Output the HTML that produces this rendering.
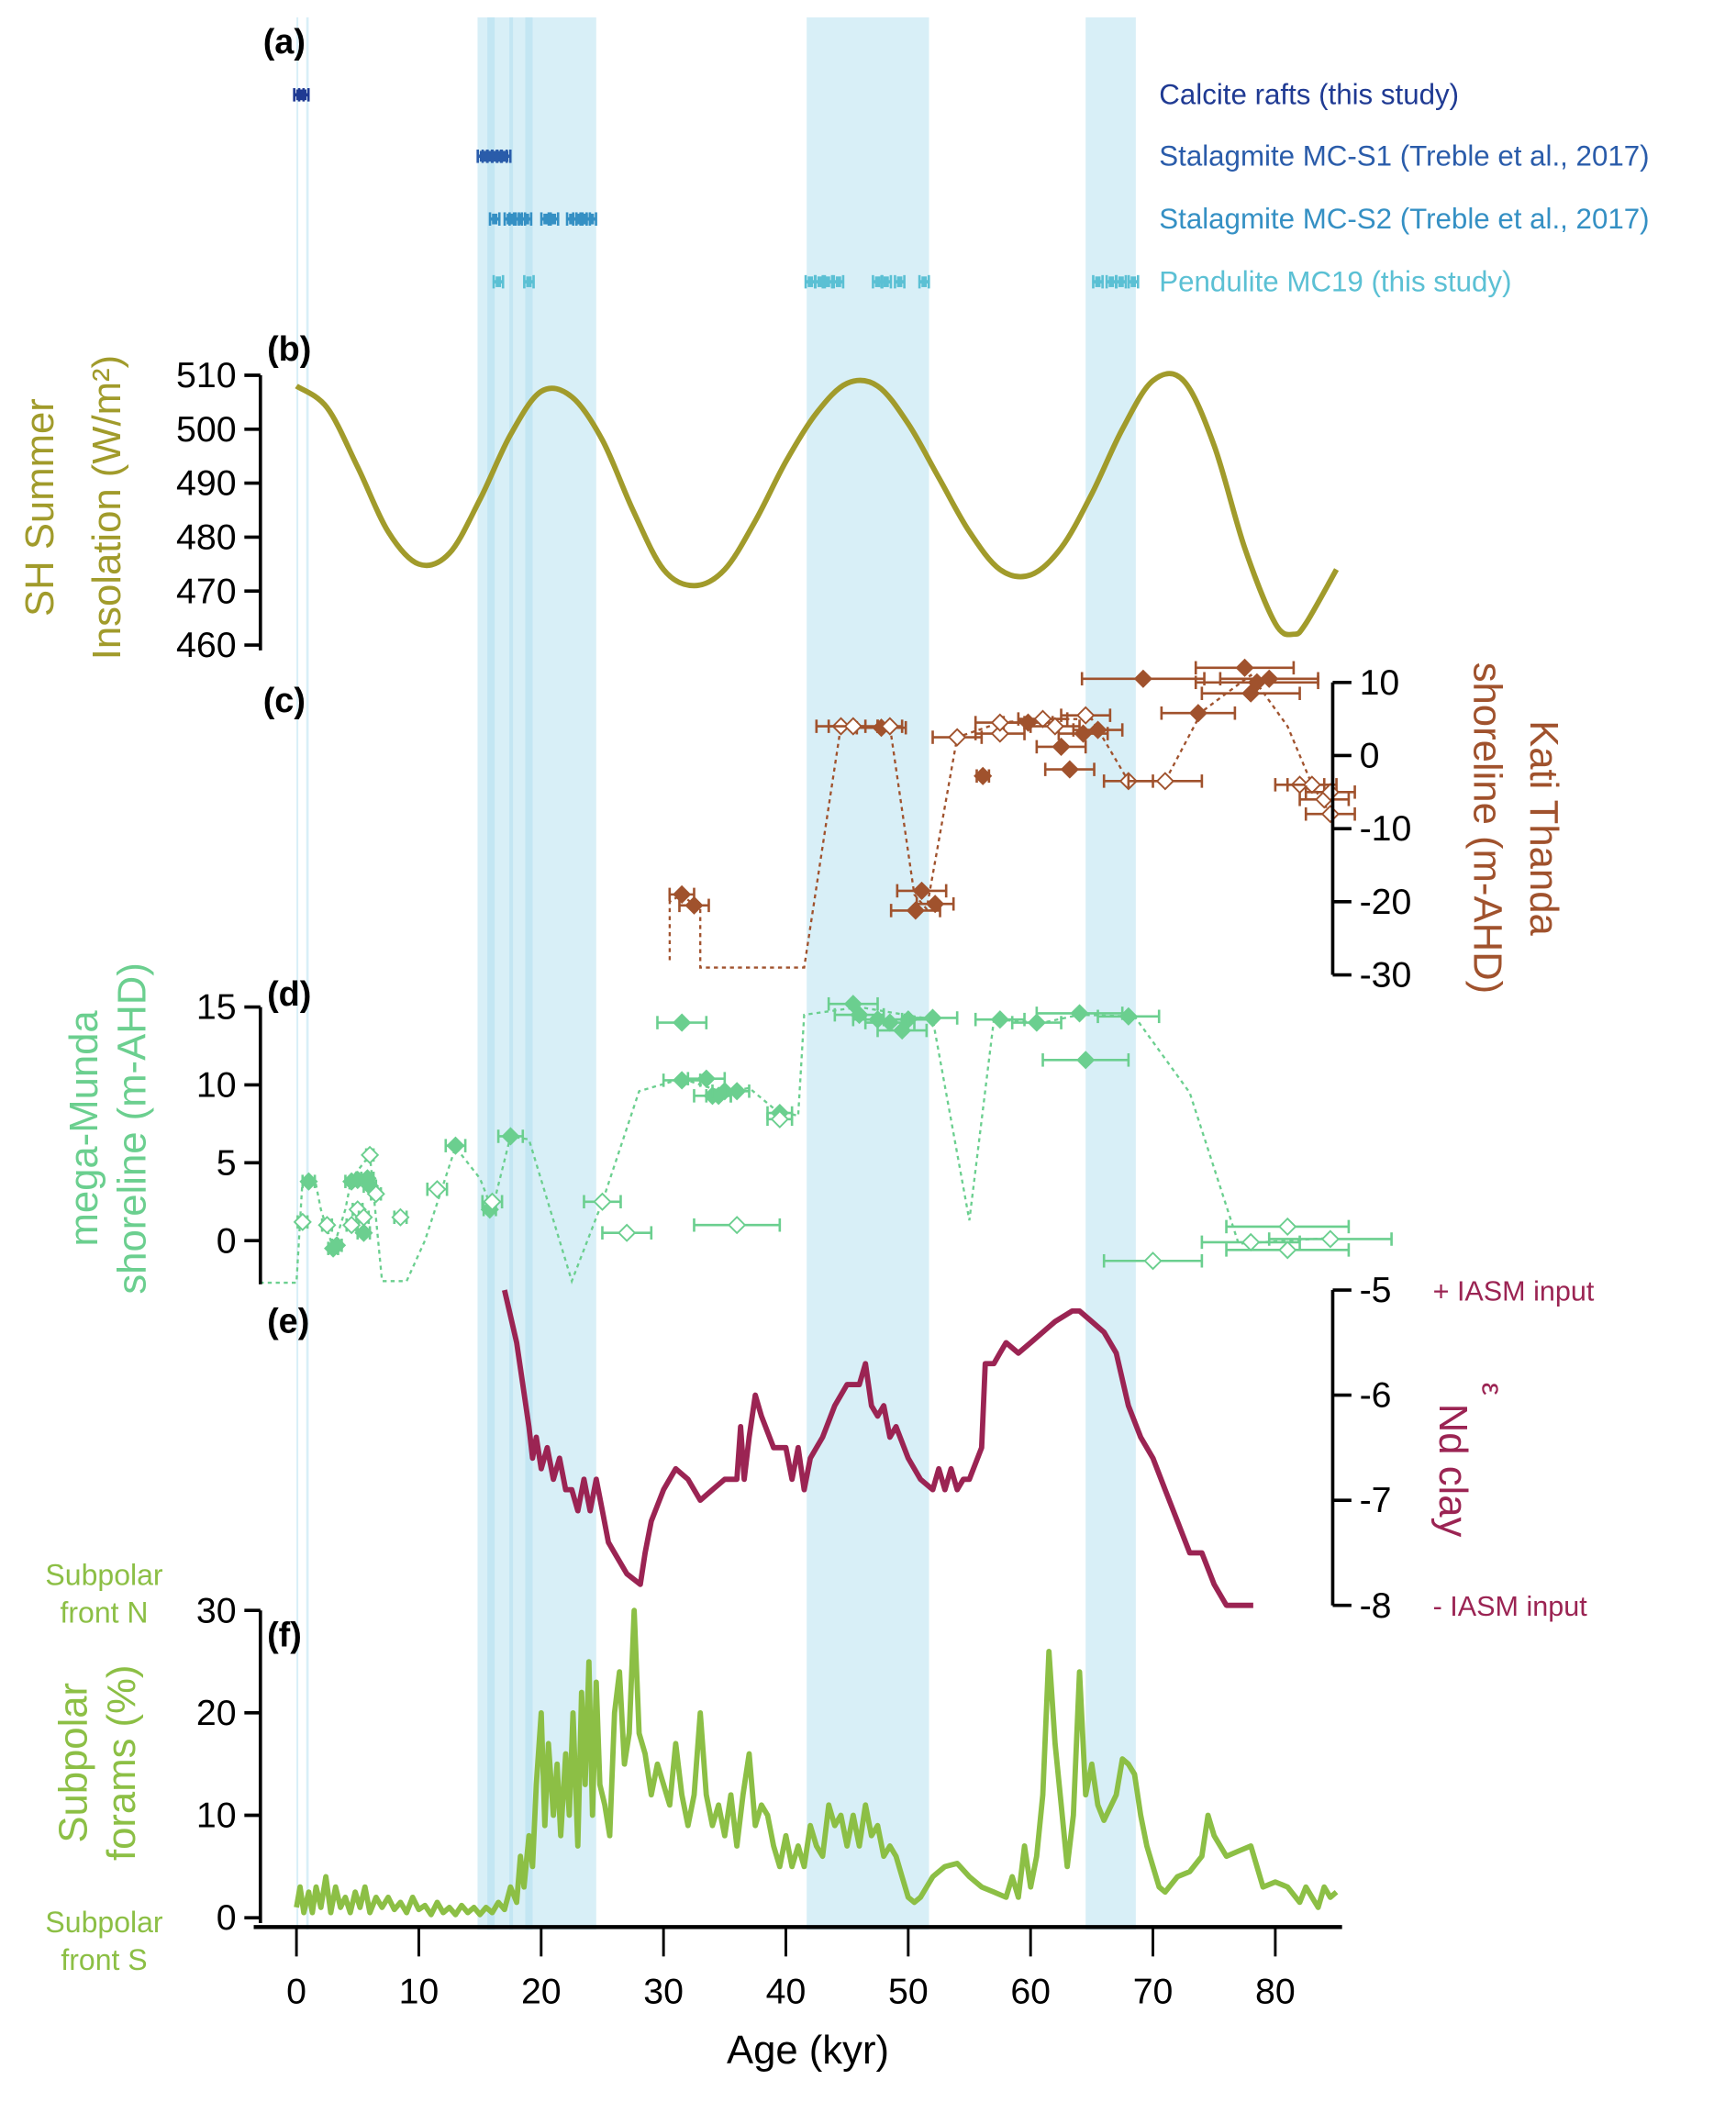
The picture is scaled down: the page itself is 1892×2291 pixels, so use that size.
<!DOCTYPE html>
<html><head><meta charset="utf-8"><style>
html,body{margin:0;padding:0;background:#fff}
svg{display:block;font-family:"Liberation Sans",sans-serif}
</style></head><body>
<svg id="chart" width="1892" height="2291" viewBox="0 0 1300 1574" preserveAspectRatio="none" xmlns="http://www.w3.org/2000/svg">
<g id="bands"></g>
<g id="plots"></g>
<g id="labels"></g>
</svg>
<script>
// ---------- data ----------
const bandsData = [[0,0.15],[0.8,1.0],[14.8,24.5],[41.7,51.7],[64.5,68.6]];
const subBands = [[15.6,16.2],[17.4,17.7],[18.7,19.3]];
const rowCalcite = [0.2,0.6];
const rowS1 = [15.2,15.6,16.0,16.4,16.8,17.1];
const rowS2 = [16.2,17.4,17.8,18.3,18.8,20.4,21.0,22.5,23.0,23.6,24.1];
const rowMC19 = [16.5,19.0,42.0,42.8,43.4,44.3,47.5,48.2,49.3,51.3,65.5,66.6,67.4,68.4];

const insolAge = [0,2.5,5,7.5,10,12.5,15,17.5,20,22.5,25,27.5,30,32.5,35,37.5,40,42.5,45,47.5,50,52.5,55,57.5,60,62.5,65,67.5,70,72.5,75,77.5,80,81.5,82.5,85];
const insolVal = [508,504,493,481,475,477,487,499,507,506,498,485,474,471,474,483,494,503,508.5,508,501,491,481,474,473,478,488,500,509,509,497,478,464,462,464,474];

const ktAge = [31.5,32.5,47.8,51.1,50.6,52.2,56.1,59.8,62.5,64.3,63.2,65.5,69.2,73.7,77.5,78,78.5,79.5,44.5,45.5,48.5,54,57.5,57.5,61,62,64.5,68,71,82,83,84,84.5,84.5];
const ktVal = [-19,-20.5,3.8,-18.5,-21.2,-20.3,-2.8,4.5,1.2,3,-1.9,3.5,10.5,5.8,12,8.5,10,10.5,4,4,4,2.5,3,4.5,5,4,5.5,-3.5,-3.5,-4,-4,-6,-8,-5];
const ktErr = [1,1.2,2,2,2,1.5,0.5,2,2,2,2,2,5,3,4,4,5,4,2,2,1,2,2,2,2,2,2,2,3,2,2,2,2,2];
const ktFilled = [1,1,1,1,1,1,1,1,1,1,1,1,1,1,1,1,1,1,0,0,0,0,0,0,0,0,0,0,0,0,0,0,0,0];
const ktLineAge = [30.5,30.5,31.5,32.5,33,33,41.5,44.5,48.5,50.5,51.5,54,57.5,61,65,68,71,74,78,81,83,84.5];
const ktLineVal = [-28,-20,-19,-20.5,-21,-29,-29,4,4,-19,-21,2.5,4.5,5,5,-3.5,-3.5,6,11,4,-4,-8];

const mmAge = [1,3,3.3,4.5,5,5.5,5.8,6,13,15.8,17.5,31.5,31.5,33.5,34,34.5,35,36,39.5,45.5,46,47.5,48.5,49.5,50,52,57.5,60.5,64,64.5,68,0.5,2.5,4.5,5,5.5,6,6.5,8.5,11.5,16,25,27,36,39.5,70,78,81,81,84.5];
const mmVal = [3.8,-0.5,-0.3,3.8,3.9,0.5,4,3.5,6.1,2,6.7,14,10.3,10.4,9.3,9.3,9.6,9.6,8.2,15.2,14.5,14.2,14,13.5,14.2,14.3,14.2,14,14.6,11.6,14.4,1.2,1,1,2,1.5,5.5,3,1.5,3.3,2.5,2.5,0.5,1,7.8,-1.3,-0.1,0.9,-0.6,0.1];
const mmErr = [0.5,0.4,0.4,0.5,0.5,0.5,0.5,0.5,0.8,0.5,1,2,1.5,1.5,1.5,1,1,1,1,2,2,2,2,2,2,2,2,2,3.5,3.5,2.5,0.4,0.4,0.4,0.4,0.4,0.3,0.4,0.5,0.8,0.8,1.5,2,3.5,1,4,4,5,5,5];
const mmFilled = [1,1,1,1,1,1,1,1,1,1,1,1,1,1,1,1,1,1,1,1,1,1,1,1,1,1,1,1,1,1,1,0,0,0,0,0,0,0,0,0,0,0,0,0,0,0,0,0,0,0];
const mmLineAge = [-3,0,0.5,1,1.5,2,3,4,4.5,6,7,9,10.5,13,15,16,17.5,19,22.5,25,28,31.5,35,37,39,41,41.5,46,52,55,57,61,64,68.5,73,77,85];
const mmLineVal = [-2.7,-2.7,4,3.8,4,2,-0.5,2,4,5.5,-2.6,-2.6,0,6,4,2,6.7,6.5,-2.6,2.5,9.6,10.4,9.5,9.8,8.5,8,14.5,15,14.2,1.3,14.2,14,14.5,14.4,9.5,-0.2,0.2];

const ndAge = [17,18,18.5,19,19.3,19.6,20,20.5,21,21.5,22,22.5,23,23.5,24,24.5,25,25.5,26,27,28.1,28.5,29,30,31,32,33,34,35,36,36.3,36.6,37,37.5,38,39,40,40.5,41,41.5,42,43,44,45,46,46.5,47,47.5,48,48.5,49,50,51,52,52.5,53,53.5,54,54.5,55,56,56.3,57,57.5,58,59,60,61,62,63.4,64,65,66,67,68,69,70,71,72,73,74,75,76,77,78.2];
const ndVal = [-5,-5.5,-5.9,-6.3,-6.6,-6.4,-6.7,-6.5,-6.8,-6.6,-6.9,-6.9,-7.1,-6.8,-7.1,-6.8,-7.1,-7.4,-7.5,-7.7,-7.8,-7.5,-7.2,-6.9,-6.7,-6.8,-7,-6.9,-6.8,-6.8,-6.3,-6.8,-6.4,-6,-6.2,-6.5,-6.5,-6.8,-6.5,-6.9,-6.6,-6.4,-6.1,-5.9,-5.9,-5.7,-6.1,-6.2,-6.1,-6.4,-6.3,-6.6,-6.8,-6.9,-6.7,-6.9,-6.7,-6.9,-6.8,-6.8,-6.5,-5.7,-5.7,-5.6,-5.5,-5.6,-5.5,-5.4,-5.3,-5.2,-5.2,-5.3,-5.4,-5.6,-6.1,-6.4,-6.6,-6.9,-7.2,-7.5,-7.5,-7.8,-8,-8,-8];

const fAge = [0,0.3,0.6,1,1.3,1.6,2,2.4,2.8,3.2,3.6,4,4.4,4.8,5.2,5.6,6,6.5,7,7.5,8,8.5,9,9.5,10,10.5,11,11.5,12,12.5,13,13.5,14,14.5,15,15.5,16,16.5,17,17.5,18,18.3,18.6,19,19.3,19.6,20,20.3,20.6,21,21.3,21.6,22,22.3,22.6,23,23.3,23.6,23.9,24.2,24.5,24.8,25.2,25.6,26,26.4,26.8,27.2,27.6,28,28.5,29,29.5,30,30.5,31,31.5,32,32.5,33,33.5,34,34.5,35,35.5,36,36.5,37,37.5,38,38.5,39,39.5,40,40.5,41,41.5,42,42.5,43,43.5,44,44.5,45,45.5,46,46.5,47,47.5,48,48.5,49,49.5,50,50.5,51,52,53,54,55,56,57,58,58.5,59,59.5,60,60.5,61,61.5,62,62.5,63,63.5,64,64.5,65,65.5,66,67,67.5,68,68.5,69,69.5,70,70.5,71,72,73,74,74.5,75,76,77,78,79,80,81,82,82.5,83,83.5,84,84.5,85];
const fVal = [1,3,0.5,2.5,0.5,3,1,4,0.5,3,1,2,0.5,2.5,1,3,0.5,2,1,2,0.8,1.5,0.5,2,0.8,1.2,0.3,1.5,0.5,1,0.3,1.2,0.5,1,0.3,1,0.5,1.5,0.8,3,1.5,6,3,8,5,13,20,9,17,10,15,8,16,10,20,7,22,13,25,10,23,13,11,8,20,24,15,18,30,18,16,12,15,13,11,17,12,9,12,20,12,9,11,8,12,7,12,16,9,11,10,7,5,8,5,7,5,9,7,6,11,9,10,7,10,7,11,8,9,6,7,6,4,2,1.5,2,4,5,5.3,4,3,2.5,2,4,2,7,3,6,12,26,17,11,5,10,24,12,15,11,9.5,12,15.5,15,14,10,7,5,3,2.5,4,4.5,6,10,8,6,6.5,7,3,3.5,3,1.5,3,2,1,3,2,2.5];

const xTicks = [0,10,20,30,40,50,60,70,80];
const insolTicks = [460,470,480,490,500,510];
const ktTicks = [-30,-20,-10,0,10];
const mmTicks = [0,5,10,15];
const ndTicks = [-8,-7,-6,-5];
const fTicks = [0,10,20,30];

// ---------- scales ----------
const X = a => 222 + a*9.1625;
const Yins = v => 281 + (510-v)*4.04;
const Ykt = v => 511 + (10-v)*5.475;
const Ymm = v => 929 - v*11.66;
const Ynd = v => 966 + (-5-v)*78.7;
const Yf = v => 1436 - v*7.67;

const NS="http://www.w3.org/2000/svg";
function mk(parent, tag, attrs){const e=document.createElementNS(NS,tag);for(const k in attrs)e.setAttribute(k,attrs[k]);parent.appendChild(e);return e;}
const gB=document.getElementById('bands'), gP=document.getElementById('plots'), gL=document.getElementById('labels');

bandsData.forEach(b=>{const r=mk(gB,'rect',{x:X(b[0]),y:13,width:X(b[1])-X(b[0]),height:1432,fill:'#d8eff7'});

});
subBands.forEach(b=>{const r=mk(gB,'rect',{x:X(b[0]),y:13,width:X(b[1])-X(b[0]),height:1432,fill:'#c3e6f3'});

});

function linePath(ax,vy,Y){return ax.map((a,i)=>(i?'L':'M')+X(a).toFixed(1)+','+Y(vy[i]).toFixed(1)).join(' ');}
function smoothPath(ax,vy,Y){const p=ax.map((a,i)=>[X(a),Y(vy[i])]);let d='M'+p[0][0]+','+p[0][1];
for(let i=0;i<p.length-1;i++){const p0=p[i-1]||p[i],p1=p[i],p2=p[i+1],p3=p[i+2]||p2;
d+=' C'+(p1[0]+(p2[0]-p0[0])/6)+','+(p1[1]+(p2[1]-p0[1])/6)+' '+(p2[0]-(p3[0]-p1[0])/6)+','+(p2[1]-(p3[1]-p1[1])/6)+' '+p2[0]+','+p2[1];}return d;}
function text(parent,x,y,s,attrs){const t=mk(parent,'text',Object.assign({x:x,y:y},attrs));t.textContent=s;return t;}

function row(ages,y,col,name){ages.forEach(a=>{const g=mk(gP,'g',{});


const x=X(a);mk(g,'line',{x1:x-3.5,x2:x+3.5,y1:y,y2:y,stroke:col,'stroke-width':2.5});
mk(g,'line',{x1:x-3.5,x2:x-3.5,y1:y-5,y2:y+5,stroke:col,'stroke-width':1.8});
mk(g,'line',{x1:x+3.5,x2:x+3.5,y1:y-5,y2:y+5,stroke:col,'stroke-width':1.8});
mk(g,'rect',{x:x-2,y:y-4,width:4,height:8,fill:col});});}
row(rowCalcite,71,'#1f3a93','calcite-raft-age');
row(rowS1,117,'#2a5caa','mc-s1-age');
row(rowS2,164,'#3590c4','mc-s2-age');
row(rowMC19,211,'#5bc0d4','mc19-age');
[['Calcite rafts (this study)',71,'#1f3a93'],['Stalagmite MC-S1 (Treble et al., 2017)',117,'#2a5caa'],['Stalagmite MC-S2 (Treble et al., 2017)',164,'#3590c4'],['Pendulite MC19 (this study)',211,'#5bc0d4']].forEach(l=>{
const t=text(gL,868,l[1]+7,l[0],{fill:l[2],'font-size':21.5});

});

let p=mk(gP,'path',{d:smoothPath(insolAge,insolVal,Yins),fill:'none',stroke:'#a19b2b','stroke-width':4});



p=mk(gP,'path',{d:linePath(ktLineAge,ktLineVal,Ykt),fill:'none',stroke:'#a0522d','stroke-width':1.6,'stroke-dasharray':'3,3'});


function pts(ages,vals,errs,filled,Y,col,name){ages.forEach((a,i)=>{const g=mk(gP,'g',{});


const x=X(a),y=Y(vals[i]),e=errs[i]*9.1625;
mk(g,'line',{x1:x-e,x2:x+e,y1:y,y2:y,stroke:col,'stroke-width':1.8});
mk(g,'line',{x1:x-e,x2:x-e,y1:y-5,y2:y+5,stroke:col,'stroke-width':1.8});
mk(g,'line',{x1:x+e,x2:x+e,y1:y-5,y2:y+5,stroke:col,'stroke-width':1.8});
mk(g,'path',{d:`M${x},${y-6}L${x+6},${y}L${x},${y+6}L${x-6},${y}Z`,fill:filled[i]?col:'#fff',stroke:col,'stroke-width':1.3});});}
pts(ktAge,ktVal,ktErr,ktFilled,Ykt,'#a0522d','kati-thanda-point');

p=mk(gP,'path',{d:linePath(mmLineAge,mmLineVal,Ymm),fill:'none',stroke:'#6bcf8f','stroke-width':1.6,'stroke-dasharray':'3,3'});


pts(mmAge,mmVal,mmErr,mmFilled,Ymm,'#6bcf8f','mega-munda-point');

p=mk(gP,'path',{d:linePath(ndAge,ndVal,Ynd),fill:'none',stroke:'#9b2453','stroke-width':4,'stroke-linejoin':'round'});



p=mk(gP,'path',{d:linePath(fAge,fVal,Yf),fill:'none',stroke:'#8cbf45','stroke-width':4,'stroke-linejoin':'round'});



function leftAxis(ticks,Y,x,name){const g=mk(gL,'g',{});


mk(g,'line',{x1:x,x2:x,y1:Y(ticks[0])+4,y2:Y(ticks[ticks.length-1]),stroke:'#000','stroke-width':2.5});
ticks.forEach(t=>{const y=Y(t);mk(g,'line',{x1:x-12,x2:x,y1:y,y2:y,stroke:'#000','stroke-width':2.5});
text(g,x-18,y+9,String(t),{'text-anchor':'end','font-size':27,fill:'#000'});});return g;}
function rightAxis(ticks,Y,x,name){const g=mk(gL,'g',{});


mk(g,'line',{x1:x,x2:x,y1:Y(ticks[0]),y2:Y(ticks[ticks.length-1]),stroke:'#000','stroke-width':2.5});
ticks.forEach(t=>{const y=Y(t);mk(g,'line',{x1:x,x2:x+14,y1:y,y2:y,stroke:'#000','stroke-width':2.5});
text(g,x+20,y+9,String(t),{'text-anchor':'start','font-size':27,fill:'#000'});});return g;}
leftAxis(insolTicks,Yins,195,'insolation-y-axis');
rightAxis(ktTicks,Ykt,998,'kati-thanda-y-axis');
const mmAx=leftAxis(mmTicks,Ymm,195,'mega-munda-y-axis');
mmAx.firstChild.setAttribute('y1',Ymm(-2.8));
rightAxis(ndTicks,Ynd,998,'end-y-axis');
leftAxis(fTicks,Yf,195,'forams-y-axis');

const gx=mk(gL,'g',{});


mk(gx,'line',{x1:190,x2:1005,y1:1443,y2:1443,stroke:'#000','stroke-width':3});
xTicks.forEach(t=>{mk(gx,'line',{x1:X(t),x2:X(t),y1:1443,y2:1465,stroke:'#000','stroke-width':2});
text(gx,X(t),1500,String(t),{'text-anchor':'middle','font-size':27,fill:'#000'});});
let t=text(gL,605,1545,'Age (kyr)',{'text-anchor':'middle','font-size':30,fill:'#000'});



[['(a)',197,40],['(b)',200,270],['(c)',197,533],['(d)',200,753],['(e)',200,998],['(f)',200,1233]].forEach(l=>{
const e=text(gL,l[1],l[2],l[0],{'font-size':26,'font-weight':'bold',fill:'#000'});

});

function vtitle(lines,x0,cy,col,rot,name,dx){const g=mk(gL,'g',{transform:`translate(${x0},${cy}) rotate(${rot})`});


lines.forEach((s,i)=>{text(g,0,i*dx,s,{'text-anchor':'middle','font-size':30,fill:col});});return g;}
vtitle(['SH Summer','Insolation (W/m²)'],40,380,'#a19b2b',-90,'insolation-y-title',50);
vtitle(['Kati Thanda','shoreline (m-AHD)'],1146,620,'#a0522d',90,'kati-thanda-y-title',42);
vtitle(['mega-Munda','shoreline (m-AHD)'],73,845,'#6bcf8f',-90,'mega-munda-y-title',36);
vtitle(['Subpolar','forams (%)'],65,1320,'#8cbf45',-90,'forams-y-title',36);
vtitle(['Nd clay'],1078,1101,'#9b2453',90,'end-y-title',0);
t=text(gL,1110,1040,'ε',{'font-size':22,fill:'#9b2453','transform':'rotate(90 1110 1040)','text-anchor':'middle'});


[['+ IASM input',1073,974],['- IASM input',1073,1210]].forEach(l=>{const e=text(gL,l[1],l[2],l[0],{'font-size':21,fill:'#9b2453'});

});
[['Subpolar',78,1187],['front N',78,1215],['Subpolar',78,1447],['front S',78,1475]].forEach(l=>{const e=text(gL,l[1],l[2],l[0],{'font-size':22,fill:'#8cbf45','text-anchor':'middle'});

});
</script>
</body></html>
